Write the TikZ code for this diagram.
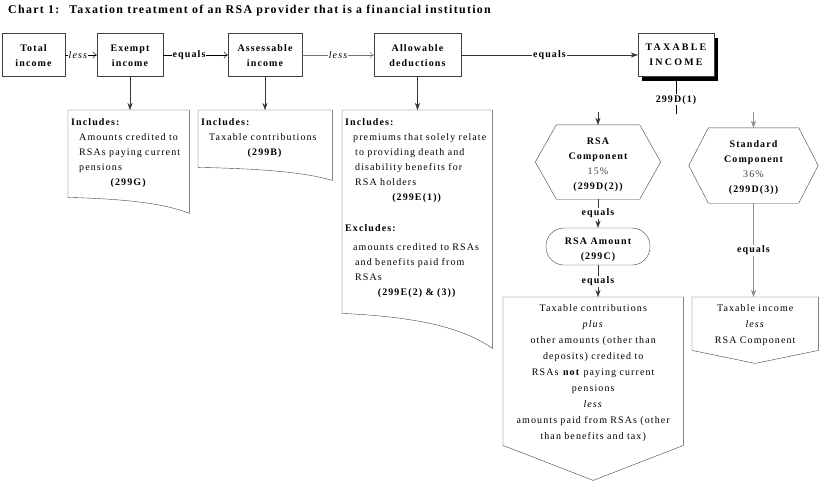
\documentclass[tikz,border=0pt]{standalone}
\usepackage{fontspec}
\setmainfont{Liberation Serif}[LetterSpace=11]
\usetikzlibrary{shadows,arrows.meta}

\newcommand{\chartfont}{\fontsize{10}{15}\selectfont}
\tikzset{
  topbox/.style={draw=black!75, minimum height=43, align=center,
    font=\chartfont\bfseries},
  lbl/.style={fill=white, inner sep=1pt, text=black, font=\chartfont\bfseries},
  note/.style={anchor=north west, inner sep=3pt, align=left, text height=12,
    font=\chartfont},
  tip/.style={anchor=north west, inner sep=3pt, align=center, text height=11,
    font=\fontsize{10}{16}\selectfont},
  hexa/.style={minimum width=#1, minimum height=74, align=center,
    font=\chartfont\bfseries},
  link/.style={-{Stealth[length=7pt,width=5pt]}, draw=black!80},
  faint/.style={-{Stealth[length=7pt,width=5pt]}, draw=black!45},
  open/.style={-{To[length=4pt,width=7pt]}},
}
\newcommand{\notepath}[3]{%
  \draw[black!75] (#1.south west) -- (#1.north west) -- (#1.north east)
    -- ([yshift=-#3pt]#1.south east)
    .. controls +(-0.2*#2,-0.6*#3) and +(0.5*#2,0.1*#3) .. (#1.south west);}
\newcommand{\hexpath}[2]{%
  \draw[black!75] (#1.west) -- ([xshift=#2pt]#1.north west) -- ([xshift=-#2pt]#1.north east)
    -- (#1.east) -- ([xshift=-#2pt]#1.south east) -- ([xshift=#2pt]#1.south west) -- cycle;}
\newcommand{\pointpath}[2]{%
  \draw[black!75] (#1.north west) -- (#1.north east) -- (#1.south east)
    -- ([yshift=-#2pt]#1.south) -- (#1.south west) -- cycle;}

\begin{document}
\begin{tikzpicture}[x=1pt, y=-1pt]
  \useasboundingbox (0,0) rectangle (819,485);
  \node[anchor=west, inner sep=0, font=\bfseries\fontsize{11.9}{14}\selectfont] (title) at (8,11)
    {Chart 1: \ Taxation treatment of an RSA provider that is a financial institution};

  \node[topbox, minimum width=63] (total) at (33.5,55) {\rule{0pt}{9pt}Total\\income};
  \node[topbox, minimum width=66] (exempt) at (130,55) {\rule{0pt}{9pt}Exempt\\income};
  \node[topbox, minimum width=74] (assess) at (265,55) {\rule{0pt}{9pt}Assessable\\income};
  \node[topbox, minimum width=87] (allow) at (417.5,55) {\rule{0pt}{9pt}Allowable\\deductions};
  \node[topbox, minimum width=76, fill=white,
    drop shadow={shadow xshift=4pt, shadow yshift=-4pt, fill=black, opacity=1}]
    (taxable) at (676,55) {\addfontfeatures{LetterSpace=22}TAXABLE\\
    \addfontfeatures{LetterSpace=22}INCOME};

  \draw[open] (total) -- node[lbl, font=\chartfont\itshape, pos=0.4]{less} (exempt);
  \draw[open] (exempt) -- node[lbl, pos=0.4]{equals} (assess);
  \draw[open, black!55] (assess) -- node[lbl, font=\chartfont\itshape]{less} (allow);
  \draw[link] (allow) -- node[lbl]{equals} (taxable);

  \node[note, text width=115, text depth=69] (exemptnote) at (68,110)
    {\textbf{Includes:}\\
     \hspace*{8pt}Amounts credited to\\
     \hspace*{8pt}RSAs paying current\\
     \hspace*{8pt}pensions\par
     {\centering\textbf{(299G)}\par}};
  \notepath{exemptnote}{121}{16}
  \node[note, text width=128, text depth=39] (assessnote) at (198,110)
    {\textbf{Includes:}\\
     \hspace*{8pt}Taxable contributions\par
     {\centering\textbf{(299B)}\par}};
  \notepath{assessnote}{134}{13}
  \node[note, text width=144, text depth=185] (allownote) at (342,110)
    {\textbf{Includes:}\\
     \hspace*{8pt}premiums that solely relate\\
     \hspace*{10pt}to providing death and\\
     \hspace*{10pt}disability benefits for\\
     \hspace*{10pt}RSA holders\par
     {\centering\textbf{(299E(1))}\par}
     \vspace{16pt}
     \textbf{Excludes:}\\[4pt]
     \hspace*{8pt}amounts credited to RSAs\\
     \hspace*{10pt}and benefits paid from\\
     \hspace*{10pt}RSAs\par
     {\centering\textbf{(299E(2) \& (3))}\par}};
  \notepath{allownote}{150}{35}

  \draw[link] (exempt) -- (exempt |- exemptnote.north);
  \draw[link] (assess) -- (assess |- assessnote.north);
  \draw[link] (allow) -- (allow |- allownote.north);

  \coordinate (split) at (676,114);
  \draw (taxable.south) -- node[lbl, pos=0.62]{299D(1)} (split);

  \node[hexa=125] (rsacomp) at (598,162)
    {\rule{0pt}{13pt}RSA\\Component\\{\mdseries\color{black!75}15\%}\\(299D(2))};
  \hexpath{rsacomp}{21}
  \node[hexa=129, minimum height=75] (stdcomp) at (753.5,165.5)
    {\rule{0pt}{11pt}Standard\\Component\\{\mdseries\color{black!75}36\%}\\(299D(3))};
  \hexpath{stdcomp}{19.5}
  \coordinate (rsain) at (598,112);
  \coordinate (stdin) at (753.5,112);
  \draw[link] (rsain) -- (rsacomp.north);
  \draw[faint] (stdin) -- (stdcomp.north);

  \node[draw=black!75, rounded corners=18, minimum width=104, minimum height=37,
    align=center, font=\chartfont\bfseries] (rsaamount) at (598,246.5)
    {\rule{0pt}{13pt}RSA Amount\\(299C)};
  \draw[link] (rsacomp) -- node[lbl]{equals} (rsaamount);

  \node[tip, text width=174, text depth=131] (rsaresult) at (503,297)
    {Taxable contributions\\
     \textit{plus}\\
     other amounts (other than\\
     deposits) credited to\\
     RSAs \textbf{not} paying current\\
     pensions\\
     \textit{less}\\
     amounts paid from RSAs (other\\
     than benefits and tax)};
  \pointpath{rsaresult}{35}
  \node[tip, text width=120, text depth=36] (stdresult) at (692,297)
    {Taxable income\\
     \textit{less}\\
     RSA Component};
  \pointpath{stdresult}{13}

  \draw[link] (rsaamount) -- node[lbl]{equals} (rsaamount |- rsaresult.north);
  \draw[faint] (stdcomp) -- node[lbl]{equals} (stdcomp |- stdresult.north);
\end{tikzpicture}
\end{document}
